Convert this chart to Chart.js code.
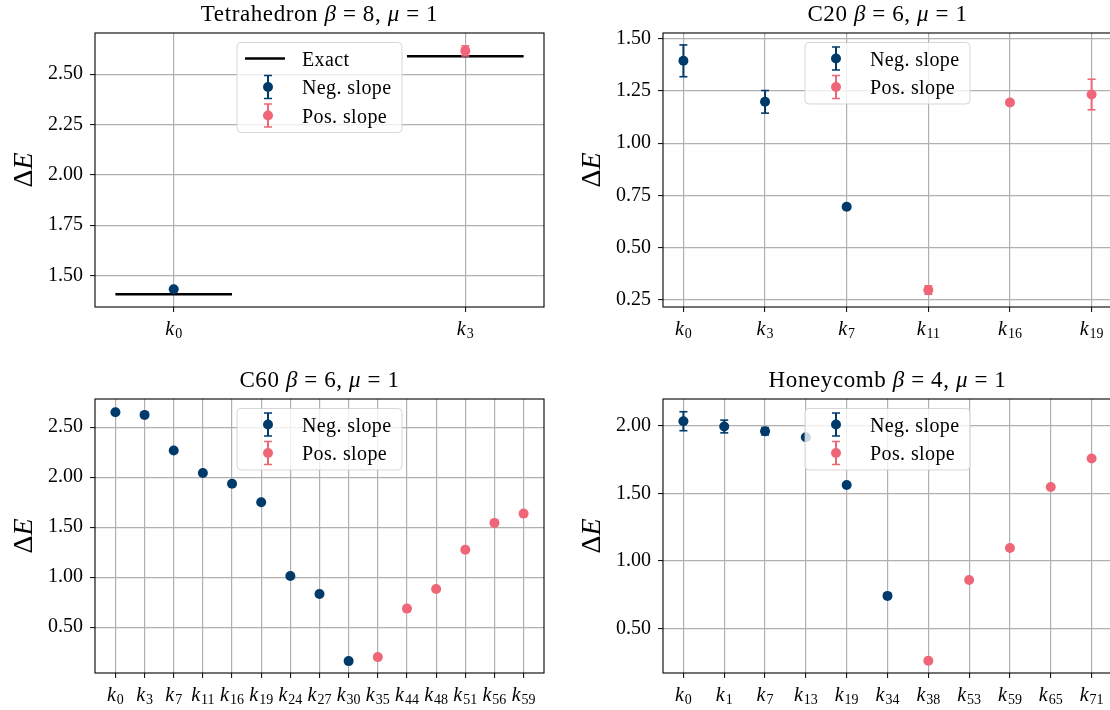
<!DOCTYPE html>
<html>
<head>
<meta charset="utf-8">
<script src="https://cdn.jsdelivr.net/npm/chart.js@4.4.0/dist/chart.umd.min.js"></script>
<style>
html, body { margin: 0; padding: 0; background: #fff; }
body { width: 1110px; height: 710px; position: relative; overflow: hidden; }
.panel { position: absolute; width: 555px; height: 355px; }
</style>
</head>
<body>
<div class="panel" style="left:0;top:0"><canvas id="tetra"></canvas></div>
<div class="panel" style="left:568px;top:0"><canvas id="c20"></canvas></div>
<div class="panel" style="left:0;top:366px"><canvas id="c60"></canvas></div>
<div class="panel" style="left:568px;top:366px"><canvas id="honey"></canvas></div>
<script>
const BLUE = '#003a6b';
const PINK = '#ee6677';
const SERIF = "'Liberation Serif', 'DejaVu Serif', serif";

// Tetrahedron
const tetraKs = [0, 3];
const tetraNeg = [1.431, null];
const tetraNegErr = [0.004, null];
const tetraPos = [null, 2.616];
const tetraPosErr = [null, 0.025];
const tetraExact = [1.406, 2.589];
const tetraYTicks = [1.50, 1.75, 2.00, 2.25, 2.50];

// C20
const c20Ks = [0, 3, 7, 11, 16, 19];
const c20Neg = [1.394, 1.198, 0.696, null, null, null];
const c20NegErr = [0.076, 0.054, 0.008, null, null, null];
const c20Pos = [null, null, null, 0.298, 1.195, 1.233];
const c20PosErr = [null, null, null, 0.020, 0.012, 0.073];
const c20YTicks = [0.25, 0.50, 0.75, 1.00, 1.25, 1.50];

// C60
const c60Ks = [0, 3, 7, 11, 16, 19, 24, 27, 30, 35, 44, 48, 51, 56, 59];
const c60Neg = [2.650, 2.623, 2.267, 2.042, 1.935, 1.749, 1.012, 0.832, 0.161, null, null, null, null, null, null];
const c60NegErr = [0.006, 0.006, 0.006, 0.006, 0.006, 0.006, 0.006, 0.006, 0.006, null, null, null, null, null, null];
const c60Pos = [null, null, null, null, null, null, null, null, null, 0.201, 0.686, 0.882, 1.274, 1.543, 1.636];
const c60PosErr = [null, null, null, null, null, null, null, null, null, 0.006, 0.006, 0.006, 0.006, 0.006, 0.006];
const c60YTicks = [0.50, 1.00, 1.50, 2.00, 2.50];

// Honeycomb
const honeyKs = [0, 1, 7, 13, 19, 34, 38, 53, 59, 65, 71];
const honeyNeg = [2.032, 1.993, 1.958, 1.914, 1.561, 0.743, null, null, null, null, null];
const honeyNegErr = [0.070, 0.047, 0.027, 0.015, 0.006, 0.006, null, null, null, null, null];
const honeyPos = [null, null, null, null, null, null, 0.265, 0.860, 1.096, 1.547, 1.757];
const honeyPosErr = [null, null, null, null, null, null, 0.006, 0.006, 0.006, 0.006, 0.006];
const honeyYTicks = [0.50, 1.00, 1.50, 2.00];

const meta = {};

function font(size, italic) {
    return (italic ? 'italic ' : '') + size + 'px ' + SERIF;
}

// draw a run of [text, italic] pieces centred on cx
function drawRich(ctx, segs, cx, y, size, spacing) {
    ctx.letterSpacing = (spacing || 0) + 'px';
    let w = 0;
    segs.forEach(s => { ctx.font = font(size, s[1]); w += ctx.measureText(s[0]).width; });
    let x = cx - w / 2;
    ctx.textAlign = 'left';
    ctx.textBaseline = 'alphabetic';
    segs.forEach(s => {
        ctx.font = font(size, s[1]);
        ctx.fillText(s[0], x, y);
        x += ctx.measureText(s[0]).width;
    });
    ctx.letterSpacing = '0px';
}

function drawErrHandle(ctx, x, y, color) {
    ctx.strokeStyle = color;
    ctx.lineWidth = 2;
    ctx.beginPath(); ctx.moveTo(x, y - 11.5); ctx.lineTo(x, y + 11.5); ctx.stroke();
    ctx.lineWidth = 1.6;
    ctx.beginPath();
    ctx.moveTo(x - 4, y - 11.5); ctx.lineTo(x + 4, y - 11.5);
    ctx.moveTo(x - 4, y + 11.5); ctx.lineTo(x + 4, y + 11.5);
    ctx.stroke();
    ctx.fillStyle = color;
    ctx.beginPath(); ctx.arc(x, y, 5, 0, Math.PI * 2); ctx.fill();
}

const decor = {
    id: 'decor',
    afterDatasetsDraw(chart) {
        const m = meta[chart.canvas.id];
        const ctx = chart.ctx, a = chart.chartArea;
        ctx.save();
        // frame
        ctx.strokeStyle = '#000';
        ctx.lineWidth = 1.1;
        ctx.strokeRect(a.left, a.top, a.right - a.left, a.bottom - a.top);
        // legend, upper centre
        const w = 165, h = 28.5 * m.legend.length + 4.5;
        const lx = (a.left + a.right) / 2 - w / 2, ly = a.top + 9.5;
        ctx.beginPath();
        ctx.roundRect(lx, ly, w, h, 4);
        ctx.fillStyle = 'rgba(255,255,255,0.8)';
        ctx.fill();
        ctx.strokeStyle = 'rgba(204,204,204,0.8)';
        ctx.lineWidth = 1;
        ctx.stroke();
        m.legend.forEach((it, j) => {
            const cy = ly + 16 + 28.5 * j;
            if (it.kind === 'line') {
                ctx.strokeStyle = '#000';
                ctx.lineWidth = 2.5;
                ctx.beginPath(); ctx.moveTo(lx + 8, cy); ctx.lineTo(lx + 48, cy); ctx.stroke();
            } else {
                drawErrHandle(ctx, lx + 31, cy, it.color);
            }
            ctx.fillStyle = '#000';
            ctx.font = font(20, false);
            ctx.textAlign = 'left';
            ctx.textBaseline = 'alphabetic';
            ctx.letterSpacing = '0.4px';
            ctx.fillText(it.label, lx + 65, cy + 7);
            ctx.letterSpacing = '0px';
        });
        ctx.restore();
    },
    afterDraw(chart) {
        const m = meta[chart.canvas.id];
        const ctx = chart.ctx, a = chart.chartArea;
        ctx.save();
        ctx.fillStyle = '#000';
        // title
        drawRich(ctx, m.title, (a.left + a.right) / 2, a.top - 12.5, 23, 0.6);
        // x tick labels k_n
        const xs = chart.scales.x;
        m.ks.forEach((k, i) => {
            const px = xs.getPixelForValue(i);
            ctx.font = font(20, true);
            const w1 = ctx.measureText('k').width + 1;
            ctx.font = font(14, false);
            const w2 = ctx.measureText(String(k)).width;
            const x0 = px - (w1 + w2) / 2;
            ctx.textAlign = 'left';
            ctx.textBaseline = 'alphabetic';
            ctx.font = font(20, true);
            ctx.fillText('k', x0, a.bottom + 28);
            ctx.font = font(14, false);
            ctx.fillText(String(k), x0 + w1, a.bottom + 31);
        });
        // y title
        ctx.translate(a.left - 63, (a.top + a.bottom) / 2);
        ctx.rotate(-Math.PI / 2);
        drawRich(ctx, [['Δ', false], ['E', true]], 0, 0, 28, 0);
        ctx.restore();
    }
};

function seriesSets(vals, errs, color) {
    const marks = [], bars = [], caps = [];
    vals.forEach((v, i) => {
        if (v === null) return;
        marks.push({ x: i, y: v });
        bars.push({ x: i, y: v - errs[i] }, { x: i, y: v + errs[i] }, { x: i, y: null });
        caps.push({ x: i, y: v - errs[i] }, { x: i, y: v + errs[i] });
    });
    return [
        { data: bars, showLine: true, borderColor: color, borderWidth: 2, pointRadius: 0, spanGaps: false, order: 3 },
        { data: caps, showLine: false, pointStyle: 'line', pointRadius: 4, pointBorderColor: color, pointBorderWidth: 1.6, order: 2 },
        { data: marks, showLine: false, pointStyle: 'circle', pointRadius: 5, pointBackgroundColor: color, pointBorderWidth: 0, order: 1 }
    ];
}

function makePanel(id, p) {
    meta[id] = { title: p.title, ks: p.ks, legend: p.legend };
    let datasets = [...seriesSets(p.neg, p.negErr, BLUE), ...seriesSets(p.pos, p.posErr, PINK)];
    if (p.exact) {
        const pts = [];
        p.exact.forEach((y, i) => pts.push({ x: i - 0.2, y: y }, { x: i + 0.2, y: y }, { x: i, y: null }));
        datasets.push({ data: pts, showLine: true, borderColor: '#000', borderWidth: 2.5, pointRadius: 0, spanGaps: false, order: 4 });
    }
    new Chart(document.getElementById(id), {
        type: 'scatter',
        data: { datasets: datasets },
        options: {
            responsive: true,
            maintainAspectRatio: false,
            animation: false,
            layout: { padding: { top: 33, right: 11, left: 0, bottom: 0 } },
            plugins: { legend: { display: false }, tooltip: { enabled: false }, title: { display: false } },
            scales: {
                x: {
                    type: 'linear',
                    min: p.xMin, max: p.xMax,
                    afterBuildTicks: s => { s.ticks = p.ks.map((_, i) => ({ value: i })); },
                    afterFit: s => { s.height = 48; },
                    ticks: { display: false, autoSkip: false },
                    grid: { color: '#b0b0b0', lineWidth: 1.2, tickColor: '#000', tickWidth: 1, tickLength: 5 },
                    border: { display: false }
                },
                y: {
                    type: 'linear',
                    min: p.yMin, max: p.yMax,
                    afterBuildTicks: s => { s.ticks = p.yTicks.map(v => ({ value: v })); },
                    afterFit: s => { s.width = 95; },
                    ticks: {
                        autoSkip: false,
                        padding: 7,
                        color: '#000',
                        font: { family: SERIF, size: 20 },
                        callback: v => v.toFixed(2)
                    },
                    grid: { color: '#b0b0b0', lineWidth: 1.2, tickColor: '#000', tickWidth: 1, tickLength: 5 },
                    border: { display: false }
                }
            }
        },
        plugins: [decor]
    });
}

const errItems = [
    { kind: 'err', color: BLUE, label: 'Neg. slope' },
    { kind: 'err', color: PINK, label: 'Pos. slope' }
];

makePanel('tetra', {
    title: [['Tetrahedron ', false], ['β', true], [' = 8, ', false], ['μ', true], [' = 1', false]],
    ks: tetraKs, neg: tetraNeg, negErr: tetraNegErr, pos: tetraPos, posErr: tetraPosErr, exact: tetraExact,
    yTicks: tetraYTicks, yMin: 1.343, yMax: 2.705, xMin: -0.27, xMax: 1.27,
    legend: [{ kind: 'line', label: 'Exact' }, ...errItems]
});
makePanel('c20', {
    title: [['C20 ', false], ['β', true], [' = 6, ', false], ['μ', true], [' = 1', false]],
    ks: c20Ks, neg: c20Neg, negErr: c20NegErr, pos: c20Pos, posErr: c20PosErr,
    yTicks: c20YTicks, yMin: 0.217, yMax: 1.527, xMin: -0.25, xMax: 5.25,
    legend: errItems
});
makePanel('c60', {
    title: [['C60 ', false], ['β', true], [' = 6, ', false], ['μ', true], [' = 1', false]],
    ks: c60Ks, neg: c60Neg, negErr: c60NegErr, pos: c60Pos, posErr: c60PosErr,
    yTicks: c60YTicks, yMin: 0.042, yMax: 2.782, xMin: -0.7, xMax: 14.7,
    legend: errItems
});
makePanel('honey', {
    title: [['Honeycomb ', false], ['β', true], [' = 4, ', false], ['μ', true], [' = 1', false]],
    ks: honeyKs, neg: honeyNeg, negErr: honeyNegErr, pos: honeyPos, posErr: honeyPosErr,
    yTicks: honeyYTicks, yMin: 0.174, yMax: 2.196, xMin: -0.5, xMax: 10.5,
    legend: errItems
});
</script>
</body>
</html>
